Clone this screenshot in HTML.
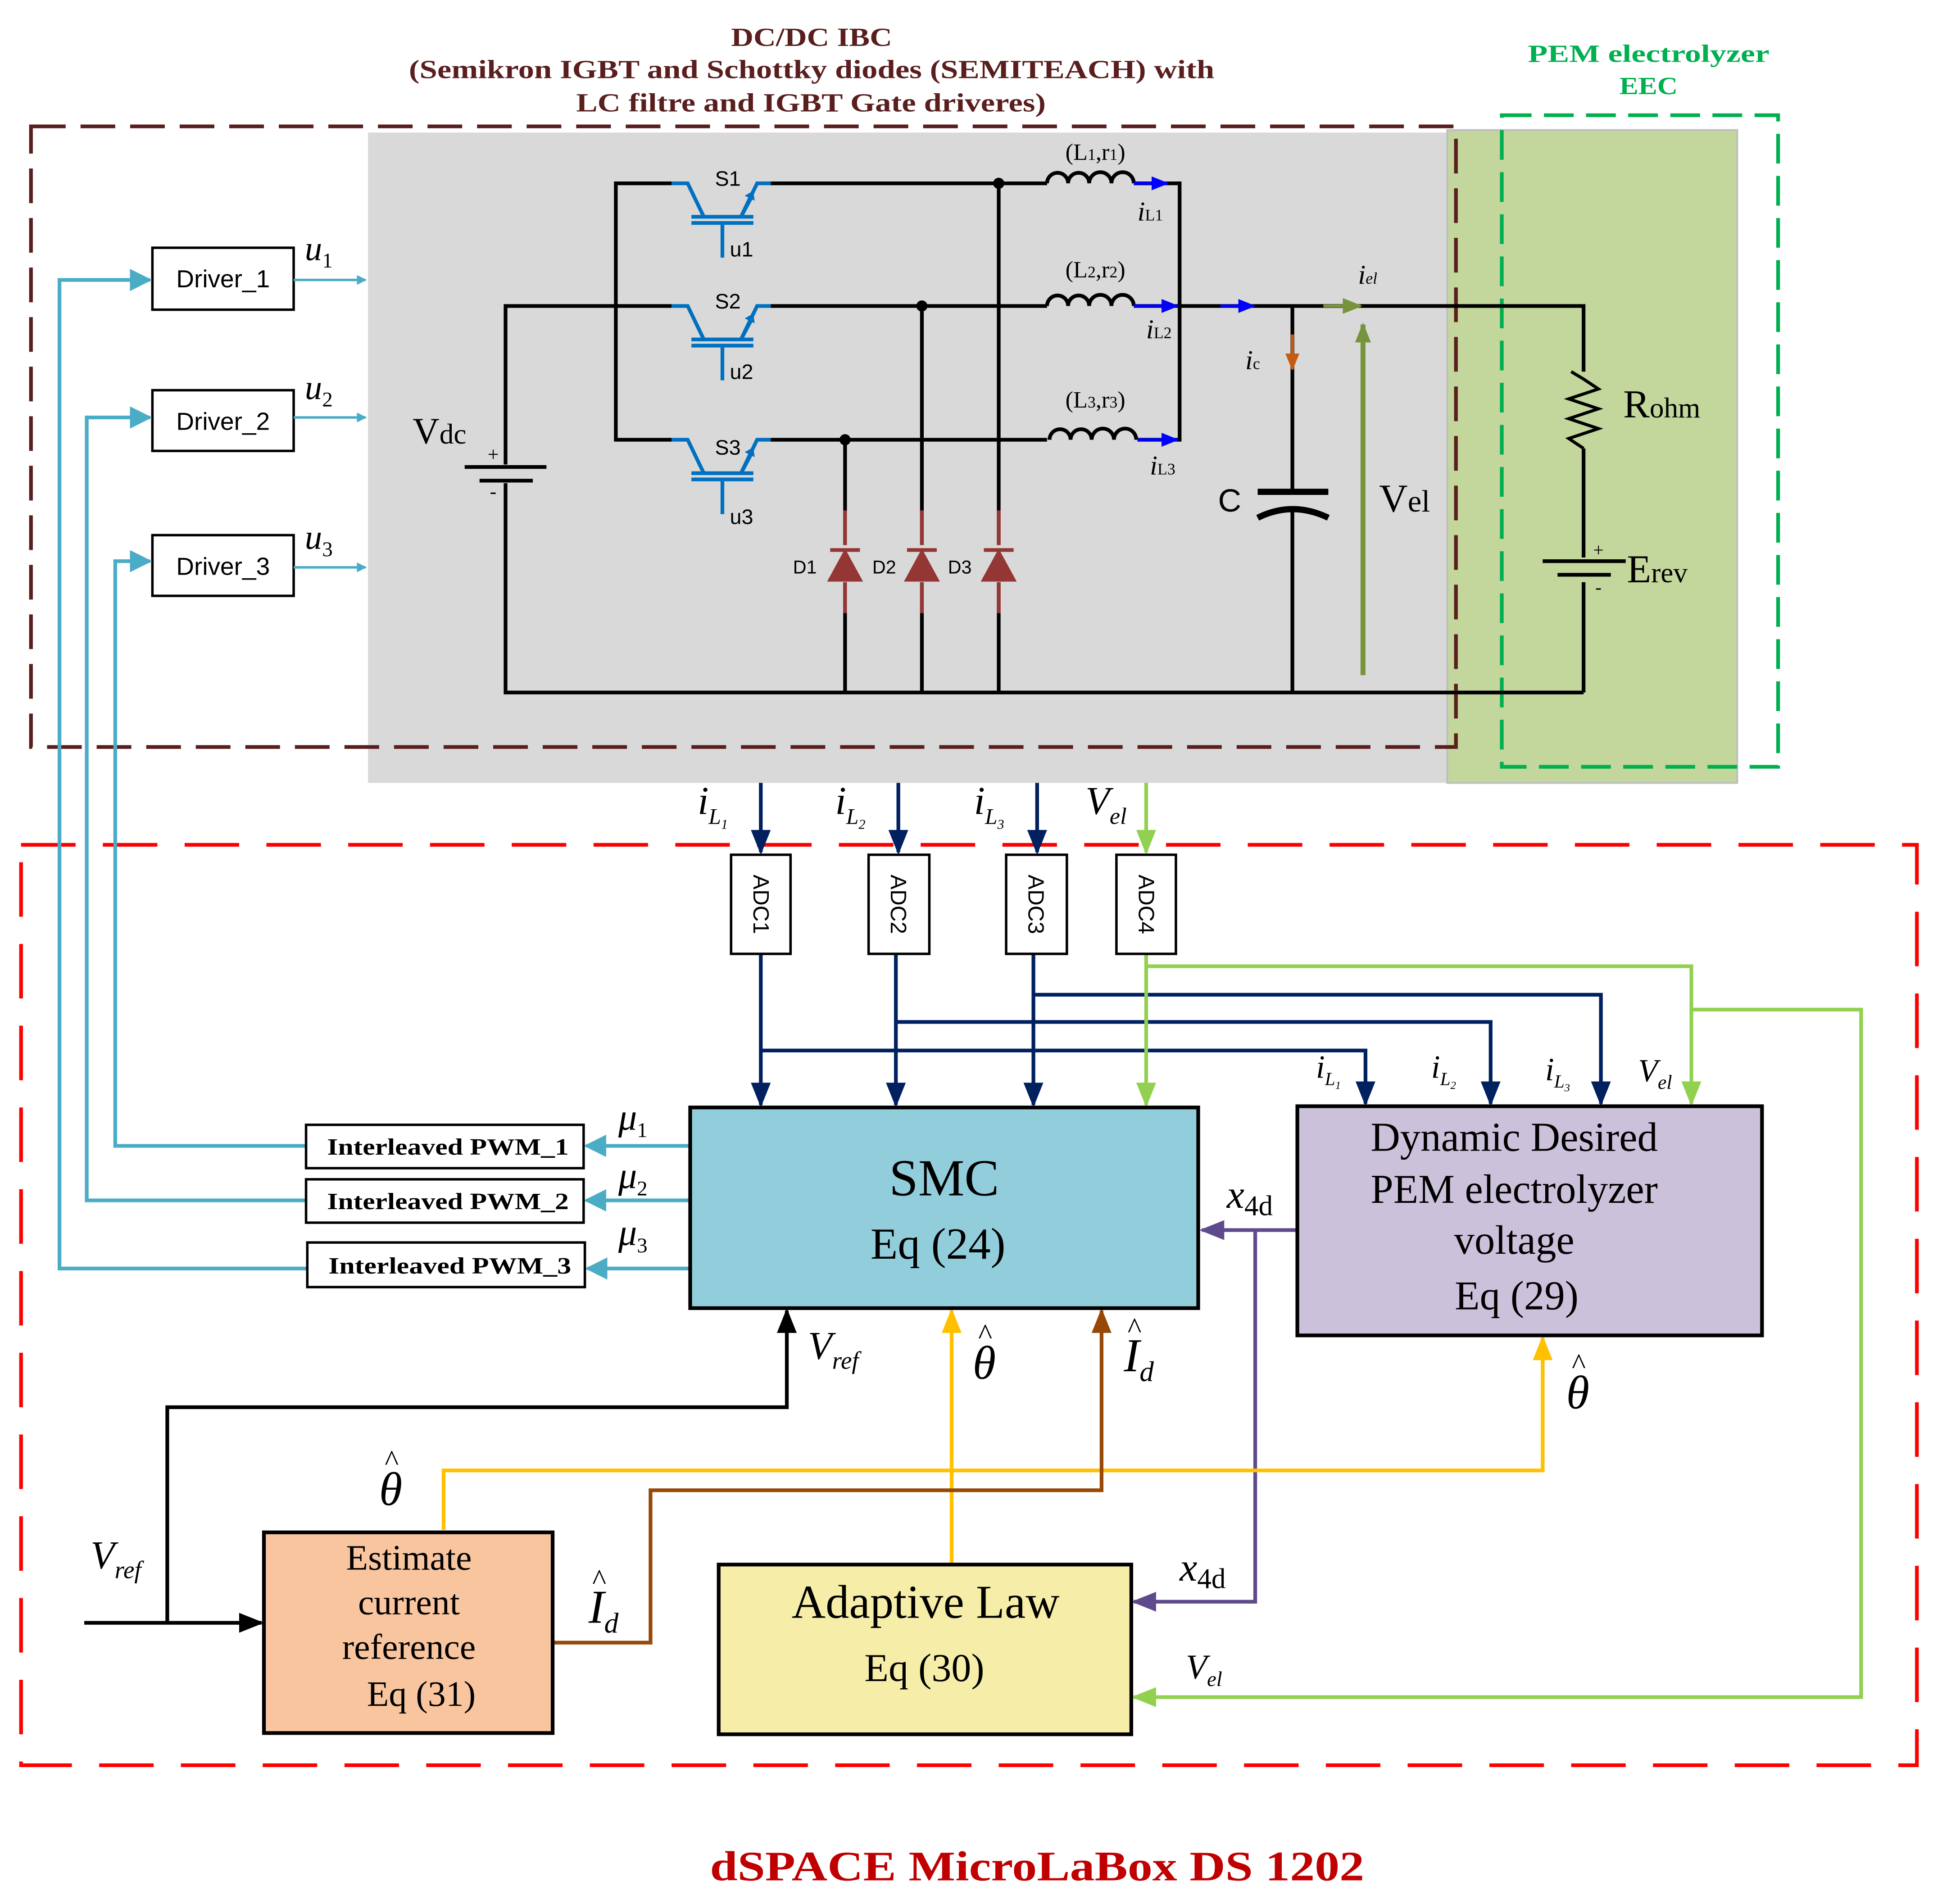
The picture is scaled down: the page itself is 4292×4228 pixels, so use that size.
<!DOCTYPE html>
<html><head><meta charset="utf-8"><style>
html,body{margin:0;padding:0;background:#fff}
svg{display:block}
text{font-family:"Liberation Serif",serif}
.s{font-family:"Liberation Sans",sans-serif}
</style></head><body>
<svg width="4292" height="4228" viewBox="0 0 1560 1537" preserveAspectRatio="none" xmlns="http://www.w3.org/2000/svg">
<defs>
<marker id="aB" markerWidth="8" markerHeight="8" refX="7" refY="4" orient="auto" markerUnits="userSpaceOnUse"><path d="M0,0 L8,4 L0,8z" fill="#4bacc6"/></marker>
<marker id="aBig" viewBox="0 0 10 10" markerWidth="18" markerHeight="18" refX="9" refY="5" orient="auto" markerUnits="userSpaceOnUse"><path d="M0,0 L10,5 L0,10z" fill="#4bacc6"/></marker>
<marker id="aN" viewBox="0 0 10 10" markerWidth="20" markerHeight="20" refX="9" refY="5" orient="auto" markerUnits="userSpaceOnUse"><path d="M0,1 L10,5 L0,9z" fill="#002060"/></marker>
<marker id="aG" viewBox="0 0 10 10" markerWidth="20" markerHeight="20" refX="9" refY="5" orient="auto" markerUnits="userSpaceOnUse"><path d="M0,1 L10,5 L0,9z" fill="#92d050"/></marker>
<marker id="aP" viewBox="0 0 10 10" markerWidth="20" markerHeight="20" refX="9" refY="5" orient="auto" markerUnits="userSpaceOnUse"><path d="M0,1 L10,5 L0,9z" fill="#5f4b8b"/></marker>
<marker id="aK" viewBox="0 0 10 10" markerWidth="20" markerHeight="20" refX="9" refY="5" orient="auto" markerUnits="userSpaceOnUse"><path d="M0,1 L10,5 L0,9z" fill="#000"/></marker>
<marker id="aY" viewBox="0 0 10 10" markerWidth="20" markerHeight="20" refX="9" refY="5" orient="auto" markerUnits="userSpaceOnUse"><path d="M0,1 L10,5 L0,9z" fill="#ffc000"/></marker>
<marker id="aR" viewBox="0 0 10 10" markerWidth="20" markerHeight="20" refX="9" refY="5" orient="auto" markerUnits="userSpaceOnUse"><path d="M0,1 L10,5 L0,9z" fill="#974806"/></marker>
<marker id="aBl" viewBox="0 0 10 10" markerWidth="14" markerHeight="14" refX="9" refY="5" orient="auto" markerUnits="userSpaceOnUse"><path d="M0,1 L10,5 L0,9z" fill="#0000ff"/></marker>
<marker id="aOl" viewBox="0 0 10 10" markerWidth="16" markerHeight="16" refX="9" refY="5" orient="auto" markerUnits="userSpaceOnUse"><path d="M0,1 L10,5 L0,9z" fill="#77933c"/></marker>
<marker id="aBr" viewBox="0 0 10 10" markerWidth="14" markerHeight="14" refX="9" refY="5" orient="auto" markerUnits="userSpaceOnUse"><path d="M0,1 L10,5 L0,9z" fill="#c55a11"/></marker>
<g id="sw">
<path d="M542,0 L555,0 L568,27 M598,27 L611,0 L622,0" stroke="#0070c0" stroke-width="3" fill="none"/>
<path d="M598,27 L606,12" stroke="#0070c0" stroke-width="3"/>
<path d="M601,10 L608,6 L609,14z" fill="#0070c0"/>
<path d="M558,27 L608,27 M558,32 L608,32 M583,33 L583,60" stroke="#0070c0" stroke-width="3"/>
</g>
</defs>

<rect x="297" y="107" width="871" height="525" fill="#d9d9d9"/>
<rect x="1168" y="105" width="234" height="527" fill="#c3d69b" stroke="#bfbfbf" stroke-width="1.5"/>
<rect x="25" y="102" width="1150" height="501" fill="none" stroke="#5a1e1e" stroke-width="3" stroke-dasharray="28,12"/>
<rect x="1212" y="93" width="223" height="526" fill="none" stroke="#00b050" stroke-width="3" stroke-dasharray="24,10"/>
<rect x="17" y="682" width="1530" height="743" fill="none" stroke="#ff0000" stroke-width="3" stroke-dasharray="44,22"/>

<g font-weight="bold" font-size="21" fill="#5a1e1e">
<text x="590" y="37" textLength="130" lengthAdjust="spacingAndGlyphs">DC/DC IBC</text>
<text x="330" y="63" textLength="650" lengthAdjust="spacingAndGlyphs">(Semikron IGBT and Schottky diodes (SEMITEACH) with</text>
<text x="465" y="90" textLength="379" lengthAdjust="spacingAndGlyphs">LC filtre and IGBT Gate driveres)</text>
</g>
<g font-weight="bold" font-size="20" fill="#00b050">
<text x="1233" y="50" textLength="195" lengthAdjust="spacingAndGlyphs">PEM electrolyzer</text>
<text x="1307" y="76" textLength="47" lengthAdjust="spacingAndGlyphs">EEC</text>
</g>
<text x="573" y="1518" font-weight="bold" font-size="34" fill="#c00000" textLength="528" lengthAdjust="spacingAndGlyphs">dSPACE MicroLaBox DS 1202</text>

<g stroke="#000" stroke-width="3" fill="none">
<path d="M408,375 L408,247 L542,247"/>
<path d="M408,390 L408,559 L1278,559"/>
<path d="M542,148 L497,148 L497,355 L542,355"/>
<path d="M622,148 L845,148 M622,247 L845,247 M622,355 L845,355"/>
<path d="M682,355 L682,440 M682,470 L682,559"/>
<path d="M744,247 L744,440 M744,470 L744,559"/>
<path d="M806,148 L806,440 M806,470 L806,559"/>
<path d="M915,148 L952,148 L952,355 L918,355 M915,247 L1278,247 L1278,300"/>
<path d="M1043,247 L1043,395 M1043,412 L1043,559"/>
<path d="M1278,362 L1278,450 M1278,470 L1278,559"/>
<path d="M1268,300 L1278,306 L1290,314 L1266,322 L1290,330 L1266,338 L1290,346 L1266,354 L1278,362" stroke-width="2.5"/>
<path d="M845,148 a8,8 0 0 1 17,0 a8,8 0 0 1 17,0 a8,8 0 0 1 18,0 a8,8 0 0 1 18,0"/>
<path d="M845,247 a8,8 0 0 1 17,0 a8,8 0 0 1 17,0 a8,8 0 0 1 18,0 a8,8 0 0 1 18,0"/>
<path d="M847,355 a8,8 0 0 1 17,0 a8,8 0 0 1 17,0 a8,8 0 0 1 18,0 a8,8 0 0 1 18,0"/>
<path d="M1015,397 L1072,397" stroke-width="5"/>
<path d="M1015,418 Q1043,404 1072,418" stroke-width="5"/>
<path d="M375,377 L441,377" stroke-width="3"/>
<path d="M387,388 L430,388" stroke-width="3"/>
<path d="M1245,453 L1312,453" stroke-width="3"/>
<path d="M1257,464 L1300,464" stroke-width="3"/>
</g>
<g fill="#000">
<circle cx="806" cy="148" r="4.5"/><circle cx="744" cy="247" r="4.5"/><circle cx="682" cy="355" r="4.5"/>
</g>
<text x="398" y="372" font-size="16" text-anchor="middle">+</text>
<text x="398" y="402" font-size="16" text-anchor="middle">-</text>
<text x="1290" y="449" font-size="15" text-anchor="middle">+</text>
<text x="1290" y="479" font-size="15" text-anchor="middle">-</text>

<use href="#sw" transform="translate(0,148)"/>
<use href="#sw" transform="translate(0,247)"/>
<use href="#sw" transform="translate(0,355)"/>
<g class="s" font-size="17">
<text x="577" y="150" class="s">S1</text><text x="589" y="207" class="s">u1</text>
<text x="577" y="249" class="s">S2</text><text x="589" y="306" class="s">u2</text>
<text x="577" y="367" class="s">S3</text><text x="589" y="423" class="s">u3</text>
</g>
<g fill="#943634" stroke="#943634" stroke-width="3">
<path d="M682,412 L682,440 M670,444 L694,444 M682,470 L682,495" fill="none"/><path d="M670,468 L694,468 L682,446z"/>
<path d="M744,412 L744,440 M732,444 L756,444 M744,470 L744,495" fill="none"/><path d="M732,468 L756,468 L744,446z"/>
<path d="M806,412 L806,440 M794,444 L818,444 M806,470 L806,495" fill="none"/><path d="M794,468 L818,468 L806,446z"/>
</g>
<g class="s" font-size="15">
<text x="640" y="463" class="s">D1</text><text x="704" y="463" class="s">D2</text><text x="765" y="463" class="s">D3</text>
</g>

<g stroke="#0000ff" stroke-width="2.5">
<line x1="915" y1="148" x2="942" y2="148" marker-end="url(#aBl)"/>
<line x1="915" y1="247" x2="950" y2="247" marker-end="url(#aBl)"/>
<line x1="918" y1="355" x2="950" y2="355" marker-end="url(#aBl)"/>
<line x1="985" y1="247" x2="1012" y2="247" marker-end="url(#aBl)"/>
</g>
<line x1="1068" y1="247" x2="1098" y2="247" stroke="#77933c" stroke-width="2.5" marker-end="url(#aOl)"/>
<line x1="1043" y1="270" x2="1043" y2="298" stroke="#c55a11" stroke-width="2.5" marker-end="url(#aBr)"/>
<line x1="1100" y1="545" x2="1100" y2="262" stroke="#77933c" stroke-width="4" marker-end="url(#aOl)"/>

<text x="884" y="129" font-size="19" text-anchor="middle">(L<tspan font-size="13">1</tspan>,r<tspan font-size="13">1</tspan>)</text>
<text x="884" y="224" font-size="19" text-anchor="middle">(L<tspan font-size="13">2</tspan>,r<tspan font-size="13">2</tspan>)</text>
<text x="884" y="329" font-size="19" text-anchor="middle">(L<tspan font-size="13">3</tspan>,r<tspan font-size="13">3</tspan>)</text>
<text x="918" y="178" font-size="22" font-style="italic">i<tspan font-size="13" font-style="normal">L1</tspan></text>
<text x="925" y="273" font-size="22" font-style="italic">i<tspan font-size="13" font-style="normal">L2</tspan></text>
<text x="928" y="383" font-size="22" font-style="italic">i<tspan font-size="13" font-style="normal">L3</tspan></text>
<text x="1096" y="229" font-size="22" font-style="italic">i<tspan font-size="13">el</tspan></text>
<text x="1005" y="298" font-size="22" font-style="italic">i<tspan font-size="13" font-style="normal">c</tspan></text>
<text x="333" y="358" font-size="30">V<tspan font-size="23">dc</tspan></text>
<text x="983" y="413" font-size="26" class="s">C</text>
<text x="1113" y="413" font-size="32">V<tspan font-size="25">el</tspan></text>
<text x="1310" y="337" font-size="32">R<tspan font-size="23">ohm</tspan></text>
<text x="1313" y="470" font-size="32">E<tspan font-size="23">rev</tspan></text>

<g fill="#fff" stroke="#000" stroke-width="2">
<rect x="123" y="200" width="114" height="50"/>
<rect x="123" y="315" width="114" height="49"/>
<rect x="123" y="432" width="114" height="49"/>
</g>
<g class="s" font-size="20" text-anchor="middle">
<text x="180" y="232" class="s">Driver_1</text>
<text x="180" y="347" class="s">Driver_2</text>
<text x="180" y="464" class="s">Driver_3</text>
</g>
<g stroke="#4bacc6" stroke-width="2">
<line x1="237" y1="226" x2="295" y2="226" marker-end="url(#aB)"/>
<line x1="237" y1="337" x2="295" y2="337" marker-end="url(#aB)"/>
<line x1="237" y1="458" x2="295" y2="458" marker-end="url(#aB)"/>
</g>
<g font-size="28" font-style="italic">
<text x="246" y="210">u<tspan font-size="17" font-style="normal" dy="6">1</tspan></text>
<text x="246" y="322">u<tspan font-size="17" font-style="normal" dy="6">2</tspan></text>
<text x="246" y="443">u<tspan font-size="17" font-style="normal" dy="6">3</tspan></text>
</g>

<g stroke="#4bacc6" stroke-width="3" fill="none">
<path d="M247,925 L93,925 L93,453 L121,453" marker-end="url(#aBig)"/>
<path d="M247,969 L70,969 L70,337 L121,337" marker-end="url(#aBig)"/>
<path d="M248,1024 L48,1024 L48,226 L121,226" marker-end="url(#aBig)"/>
<path d="M557,925 L473,925" marker-end="url(#aBig)"/>
<path d="M557,969 L473,969" marker-end="url(#aBig)"/>
<path d="M557,1024 L474,1024" marker-end="url(#aBig)"/>
</g>
<g fill="#fff" stroke="#000" stroke-width="2">
<rect x="247" y="908" width="224" height="35"/>
<rect x="247" y="952" width="224" height="35"/>
<rect x="248" y="1003" width="224" height="36"/>
</g>
<g font-size="19" font-weight="bold">
<text x="264" y="932" textLength="195" lengthAdjust="spacingAndGlyphs">Interleaved PWM_1</text>
<text x="264" y="976" textLength="195" lengthAdjust="spacingAndGlyphs">Interleaved PWM_2</text>
<text x="265" y="1028" textLength="196" lengthAdjust="spacingAndGlyphs">Interleaved PWM_3</text>
</g>
<g font-size="30" font-style="italic">
<text x="499" y="912">μ<tspan font-size="17" font-style="normal" dy="6">1</tspan></text>
<text x="499" y="959">μ<tspan font-size="17" font-style="normal" dy="6">2</tspan></text>
<text x="499" y="1005">μ<tspan font-size="17" font-style="normal" dy="6">3</tspan></text>
</g>

<g stroke="#002060" stroke-width="3" fill="none">
<line x1="614" y1="632" x2="614" y2="688" marker-end="url(#aN)"/>
<line x1="725" y1="632" x2="725" y2="688" marker-end="url(#aN)"/>
<line x1="837" y1="632" x2="837" y2="688" marker-end="url(#aN)"/>
<line x1="614" y1="770" x2="614" y2="892" marker-end="url(#aN)"/>
<line x1="723" y1="770" x2="723" y2="892" marker-end="url(#aN)"/>
<line x1="834" y1="770" x2="834" y2="892" marker-end="url(#aN)"/>
<path d="M614,848 L1102,848 L1102,891" marker-end="url(#aN)"/>
<path d="M723,825 L1203,825 L1203,891" marker-end="url(#aN)"/>
<path d="M834,803 L1292,803 L1292,891" marker-end="url(#aN)"/>
</g>
<g stroke="#92d050" stroke-width="3" fill="none">
<line x1="925" y1="632" x2="925" y2="688" marker-end="url(#aG)"/>
<line x1="925" y1="770" x2="925" y2="892" marker-end="url(#aG)"/>
<path d="M925,780 L1365,780 L1365,891" marker-end="url(#aG)"/>
<path d="M1365,815 L1502,815 L1502,1370 L915,1370" marker-end="url(#aG)"/>
</g>
<g fill="#fff" stroke="#000" stroke-width="2">
<rect x="590" y="690" width="48" height="80"/>
<rect x="701" y="690" width="49" height="80"/>
<rect x="812" y="690" width="49" height="80"/>
<rect x="901" y="690" width="48" height="80"/>
</g>
<g class="s" font-size="18" text-anchor="middle">
<text transform="translate(608,730) rotate(90)" class="s">ADC1</text>
<text transform="translate(719,730) rotate(90)" class="s">ADC2</text>
<text transform="translate(830,730) rotate(90)" class="s">ADC3</text>
<text transform="translate(919,730) rotate(90)" class="s">ADC4</text>
</g>
<g font-size="32" font-style="italic">
<text x="563" y="657">i<tspan font-size="18" dy="8">L</tspan><tspan font-size="11" dy="4">1</tspan></text>
<text x="674" y="657">i<tspan font-size="18" dy="8">L</tspan><tspan font-size="11" dy="4">2</tspan></text>
<text x="786" y="657">i<tspan font-size="18" dy="8">L</tspan><tspan font-size="11" dy="4">3</tspan></text>
<text x="876" y="657">V<tspan font-size="19" dy="8">el</tspan></text>
</g>
<g font-size="26" font-style="italic">
<text x="1062" y="870">i<tspan font-size="15" dy="6">L</tspan><tspan font-size="9" dy="3">1</tspan></text>
<text x="1155" y="870">i<tspan font-size="15" dy="6">L</tspan><tspan font-size="9" dy="3">2</tspan></text>
<text x="1247" y="872">i<tspan font-size="15" dy="6">L</tspan><tspan font-size="9" dy="3">3</tspan></text>
<text x="1322" y="873">V<tspan font-size="16" dy="6">el</tspan></text>
</g>

<g fill="none" stroke-width="3">
<path d="M1047,993 L970,993" stroke="#5f4b8b" marker-end="url(#aP)"/>
<path d="M1013,993 L1013,1293 L915,1293" stroke="#5f4b8b" marker-end="url(#aP)"/>
<path d="M68,1310 L211,1310" stroke="#000" marker-end="url(#aK)"/>
<path d="M135,1310 L135,1136 L635,1136 L635,1058" stroke="#000" marker-end="url(#aK)"/>
<path d="M768,1263 L768,1058" stroke="#ffc000" marker-end="url(#aY)"/>
<path d="M358,1235 L358,1187 L1245,1187 L1245,1080" stroke="#ffc000" marker-end="url(#aY)"/>
<path d="M446,1326 L525,1326 L525,1203 L889,1203 L889,1058" stroke="#974806" marker-end="url(#aR)"/>
</g>

<rect x="557" y="894" width="410" height="162" fill="#92cddc" stroke="#000" stroke-width="3"/>
<text x="762" y="965" font-size="42" text-anchor="middle">SMC</text>
<text x="757" y="1016" font-size="36" text-anchor="middle">Eq (24)</text>
<rect x="1047" y="893" width="375" height="185" fill="#ccc1da" stroke="#000" stroke-width="3"/>
<g font-size="33" text-anchor="middle">
<text x="1222" y="929">Dynamic Desired</text>
<text x="1222" y="971">PEM electrolyzer</text>
<text x="1222" y="1012">voltage</text>
<text x="1224" y="1057">Eq (29)</text>
</g>
<rect x="213" y="1237" width="233" height="162" fill="#f8c59f" stroke="#000" stroke-width="3"/>
<g font-size="29" text-anchor="middle">
<text x="330" y="1267">Estimate</text>
<text x="330" y="1303">current</text>
<text x="330" y="1339">reference</text>
<text x="340" y="1377">Eq (31)</text>
</g>
<rect x="580" y="1263" width="333" height="137" fill="#f6eda8" stroke="#000" stroke-width="3"/>
<text x="747" y="1306" font-size="38" text-anchor="middle">Adaptive Law</text>
<text x="746" y="1357" font-size="32" text-anchor="middle">Eq (30)</text>

<g font-style="italic">
<text x="990" y="975" font-size="32">x<tspan font-size="23" font-style="normal" dy="6">4d</tspan></text>
<text x="952" y="1276" font-size="32">x<tspan font-size="23" font-style="normal" dy="6">4d</tspan></text>
<text x="652" y="1097" font-size="32">V<tspan font-size="20" dy="8">ref</tspan></text>
<text x="73" y="1266" font-size="32">V<tspan font-size="20" dy="8">ref</tspan></text>
<text x="957" y="1355" font-size="28">V<tspan font-size="17" dy="6">el</tspan></text>
<text x="785" y="1113" font-size="38">θ</text><text x="789" y="1085" font-size="24">^</text>
<text x="1264" y="1137" font-size="38">θ</text><text x="1268" y="1109" font-size="24">^</text>
<text x="306" y="1215" font-size="38">θ</text><text x="310" y="1187" font-size="24">^</text>
<text x="907" y="1107" font-size="38">I<tspan font-size="23" dy="8">d</tspan></text><text x="910" y="1080" font-size="24" font-style="normal">^</text>
<text x="475" y="1310" font-size="38">I<tspan font-size="23" dy="8">d</tspan></text><text x="478" y="1283" font-size="24" font-style="normal">^</text>
</g>
</svg>
</body></html>
